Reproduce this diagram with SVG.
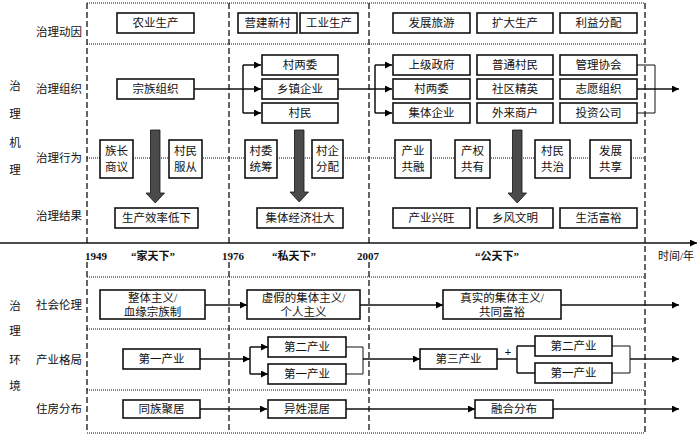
<svg xmlns="http://www.w3.org/2000/svg" width="700" height="434" viewBox="0 0 700 434">
<defs>
<marker id="ah" viewBox="0 0 10 10" refX="10" refY="5" markerWidth="7" markerHeight="7" orient="auto" markerUnits="userSpaceOnUse"><path d="M0,0 L10,5 L0,10 z" fill="#000"/></marker>
<style>
text{font-family:"Liberation Serif","Noto Sans CJK SC",serif;font-size:11.5px;fill:#111;text-anchor:middle;dominant-baseline:central}
.b{fill:#fff;stroke:#111;stroke-width:1.6}
.dash{stroke:#111;stroke-width:1.3;stroke-dasharray:6,3;fill:none}
.dot{stroke:#111;stroke-width:1;stroke-dasharray:1,1;fill:none}
.ln{stroke:#111;stroke-width:1.5;fill:none}
.thin{stroke:#111;stroke-width:1;fill:none}
.big{fill:#4a4a4a;stroke:#111;stroke-width:0.8}
.yr{font-weight:bold;font-size:11px}
</style>
</defs>
<rect width="700" height="434" fill="#fff"/>
<g id="grid">
<line class="dot" x1="87" y1="3" x2="645" y2="3"/>
<line class="dot" x1="87" y1="44" x2="645" y2="44"/>
<line class="dot" x1="87" y1="158" x2="645" y2="158"/>
<line class="dot" x1="87" y1="277" x2="645" y2="277"/>
<line class="dot" x1="87" y1="329" x2="645" y2="329"/>
<line class="dot" x1="87" y1="390" x2="645" y2="390"/>
<line class="dot" x1="87" y1="433" x2="645" y2="433"/>
<line class="dash" x1="87" y1="3" x2="87" y2="243"/>
<line class="dash" x1="229" y1="3" x2="229" y2="243"/>
<line class="dash" x1="369" y1="3" x2="369" y2="243"/>
<line class="dash" x1="87" y1="262" x2="87" y2="433"/>
<line class="dash" x1="229" y1="262" x2="229" y2="433"/>
<line class="dash" x1="369" y1="262" x2="369" y2="433"/>
<line class="dash" x1="645" y1="3" x2="645" y2="433"/>
<line class="ln" x1="0" y1="243" x2="697" y2="243" stroke-width="1.3" marker-end="url(#ah)"/>
</g>
<g id="labels">
<text x="15" y="86">治</text><text x="15" y="114">理</text><text x="15" y="143">机</text><text x="15" y="170">理</text>
<text x="15" y="306">治</text><text x="15" y="331">理</text><text x="15" y="360">环</text><text x="15" y="386">境</text>
<text x="59" y="32">治理动因</text>
<text x="59" y="89">治理组织</text>
<text x="59" y="158">治理行为</text>
<text x="59" y="216">治理结果</text>
<text x="59" y="305">社会伦理</text>
<text x="59" y="360">产业格局</text>
<text x="59" y="409">住房分布</text>
<text class="yr" x="96" y="256">1949</text>
<text class="yr" x="153" y="256">“家天下”</text>
<text class="yr" x="233" y="256">1976</text>
<text class="yr" x="294" y="256">“私天下”</text>
<text class="yr" x="368" y="256">2007</text>
<text class="yr" x="497" y="256">“公天下”</text>
<text x="676" y="256" style="font-size:11px">时间/年</text>
</g>
<g id="connectors">
<path class="ln" d="M194,89 H261" marker-end="url(#ah)"/>
<path class="ln" d="M243,65 V113"/>
<path class="ln" d="M243,65 H261" marker-end="url(#ah)"/>
<path class="ln" d="M243,113 H261" marker-end="url(#ah)"/>
<path class="ln" d="M338,89 H392" marker-end="url(#ah)"/>
<path class="ln" d="M375,65 V113"/>
<path class="ln" d="M375,65 H392" marker-end="url(#ah)"/>
<path class="ln" d="M375,113 H392" marker-end="url(#ah)"/>
<path class="thin" d="M637,65 H655 V113 H637"/>
<path class="ln" d="M637,89 H679" marker-end="url(#ah)"/>
<path class="ln" d="M205,305 H247" marker-end="url(#ah)"/>
<path class="ln" d="M360,305 H443" marker-end="url(#ah)"/>
<path class="ln" d="M561,305 H679" marker-end="url(#ah)"/>
<path class="ln" d="M200,359 H250" marker-end="url(#ah)"/>
<path class="ln" d="M250,347 V374"/>
<path class="ln" d="M250,347 H268" marker-end="url(#ah)"/>
<path class="ln" d="M250,374 H268" marker-end="url(#ah)"/>
<path class="thin" d="M346,347 H363 V374 H346"/>
<path class="ln" d="M363,359 H420" marker-end="url(#ah)"/>
<path class="ln" d="M497,359 H517"/>
<path class="ln" d="M517,346 V373 M517,346 H535 M517,373 H535"/>
<path class="thin" d="M612,346 H630 V373 H612"/>
<path class="ln" d="M630,359 H679" marker-end="url(#ah)"/>
<path class="ln" d="M200,409 H267" marker-end="url(#ah)"/>
<path class="ln" d="M346,409 H475" marker-end="url(#ah)"/>
<path class="ln" d="M553,409 H679" marker-end="url(#ah)"/>
<text x="508" y="352" style="font-size:12px;font-weight:bold">+</text>
<path class="big" d="M150.5,130 H160 V193 H164.5 L155.25,203 L146,193 H150.5 Z"/>
<path class="big" d="M294.5,130 H304 V192 H308.5 L299.25,202 L290,192 H294.5 Z"/>
<path class="big" d="M512.5,130 H522 V193 H526.5 L517.25,203 L508,193 H512.5 Z"/>
</g>
<g id="n-nongye"><rect class="b" x="117" y="13" width="77" height="20"/><text x="155.5" y="23">农业生产</text></g>
<g id="n-yingjian"><rect class="b" x="238" y="13" width="59" height="20"/><text x="267.5" y="23">营建新村</text></g>
<g id="n-gongye"><rect class="b" x="300" y="13" width="58" height="20"/><text x="329" y="23">工业生产</text></g>
<g id="n-lvyou"><rect class="b" x="393" y="13" width="77" height="20"/><text x="431.5" y="23">发展旅游</text></g>
<g id="n-kuoda"><rect class="b" x="477" y="13" width="76" height="20"/><text x="515" y="23">扩大生产</text></g>
<g id="n-liyi"><rect class="b" x="560" y="13" width="77" height="20"/><text x="598.5" y="23">利益分配</text></g>
<g id="n-zongzu"><rect class="b" x="117" y="79" width="77" height="20"/><text x="155.5" y="89">宗族组织</text></g>
<g id="n-cunliangwei1"><rect class="b" x="262" y="55" width="76" height="20"/><text x="300" y="65">村两委</text></g>
<g id="n-xiangzhen"><rect class="b" x="262" y="79" width="76" height="20"/><text x="300" y="89">乡镇企业</text></g>
<g id="n-cunmin"><rect class="b" x="262" y="103" width="76" height="20"/><text x="300" y="113">村民</text></g>
<g id="n-shangji"><rect class="b" x="393" y="55" width="77" height="20"/><text x="431.5" y="65">上级政府</text></g>
<g id="n-cunliangwei2"><rect class="b" x="393" y="79" width="77" height="20"/><text x="431.5" y="89">村两委</text></g>
<g id="n-jiti"><rect class="b" x="393" y="103" width="77" height="20"/><text x="431.5" y="113">集体企业</text></g>
<g id="n-putong"><rect class="b" x="477" y="55" width="76" height="20"/><text x="515" y="65">普通村民</text></g>
<g id="n-shequ"><rect class="b" x="477" y="79" width="76" height="20"/><text x="515" y="89">社区精英</text></g>
<g id="n-wailai"><rect class="b" x="477" y="103" width="76" height="20"/><text x="515" y="113">外来商户</text></g>
<g id="n-guanli"><rect class="b" x="560" y="55" width="77" height="20"/><text x="598.5" y="65">管理协会</text></g>
<g id="n-zhiyuan"><rect class="b" x="560" y="79" width="77" height="20"/><text x="598.5" y="89">志愿组织</text></g>
<g id="n-touzi"><rect class="b" x="560" y="103" width="77" height="20"/><text x="598.5" y="113">投资公司</text></g>
<g id="n-zuzhang"><rect class="b" x="100" y="140" width="33" height="38"/><text x="116.5" y="151">族长</text><text x="116.5" y="167">商议</text></g>
<g id="n-fucong"><rect class="b" x="169" y="140" width="33" height="38"/><text x="185.5" y="151">村民</text><text x="185.5" y="167">服从</text></g>
<g id="n-tongchou"><rect class="b" x="245" y="140" width="32" height="38"/><text x="261" y="151">村委</text><text x="261" y="167">统筹</text></g>
<g id="n-fenpei"><rect class="b" x="312" y="140" width="31" height="38"/><text x="327.5" y="151">村企</text><text x="327.5" y="167">分配</text></g>
<g id="n-gongrong"><rect class="b" x="395" y="140" width="36" height="38"/><text x="413" y="151">产业</text><text x="413" y="167">共融</text></g>
<g id="n-gongyou"><rect class="b" x="455" y="140" width="35" height="38"/><text x="472.5" y="151">产权</text><text x="472.5" y="167">共有</text></g>
<g id="n-gongzhi"><rect class="b" x="535" y="140" width="35" height="38"/><text x="552.5" y="151">村民</text><text x="552.5" y="167">共治</text></g>
<g id="n-gongxiang"><rect class="b" x="590" y="140" width="41" height="38"/><text x="610.5" y="151">发展</text><text x="610.5" y="167">共享</text></g>
<g id="n-dixia"><rect class="b" x="115" y="208" width="83" height="20"/><text x="156.5" y="218">生产效率低下</text></g>
<g id="n-zhuangda"><rect class="b" x="257" y="208" width="86" height="20"/><text x="300" y="218">集体经济壮大</text></g>
<g id="n-xingwang"><rect class="b" x="393" y="208" width="77" height="20"/><text x="431.5" y="218">产业兴旺</text></g>
<g id="n-wenming"><rect class="b" x="477" y="208" width="76" height="20"/><text x="515" y="218">乡风文明</text></g>
<g id="n-fuyu"><rect class="b" x="560" y="208" width="77" height="20"/><text x="598.5" y="218">生活富裕</text></g>
<g id="n-zhengti"><rect class="b" x="100" y="290" width="105" height="29"/><text x="152.5" y="298">整体主义/</text><text x="152.5" y="312">血缘宗族制</text></g>
<g id="n-xujia"><rect class="b" x="247" y="290" width="113" height="29"/><text x="303.5" y="298">虚假的集体主义/</text><text x="303.5" y="312">个人主义</text></g>
<g id="n-zhenshi"><rect class="b" x="443" y="290" width="118" height="29"/><text x="502" y="298">真实的集体主义/</text><text x="502" y="312">共同富裕</text></g>
<g id="n-diyi1"><rect class="b" x="123" y="349" width="77" height="20"/><text x="161.5" y="359">第一产业</text></g>
<g id="n-dier2"><rect class="b" x="268" y="337" width="78" height="20"/><text x="307" y="347">第二产业</text></g>
<g id="n-diyi2"><rect class="b" x="268" y="364" width="78" height="20"/><text x="307" y="374">第一产业</text></g>
<g id="n-disan"><rect class="b" x="420" y="349" width="77" height="20"/><text x="458.5" y="359">第三产业</text></g>
<g id="n-dier3"><rect class="b" x="535" y="336" width="77" height="20"/><text x="573.5" y="346">第二产业</text></g>
<g id="n-diyi3"><rect class="b" x="535" y="363" width="77" height="20"/><text x="573.5" y="373">第一产业</text></g>
<g id="n-tongzu"><rect class="b" x="123" y="400" width="77" height="18"/><text x="161.5" y="409">同族聚居</text></g>
<g id="n-yixing"><rect class="b" x="268" y="400" width="78" height="18"/><text x="307" y="409">异姓混居</text></g>
<g id="n-ronghe"><rect class="b" x="475" y="400" width="78" height="18"/><text x="514" y="409">融合分布</text></g>
</svg>
